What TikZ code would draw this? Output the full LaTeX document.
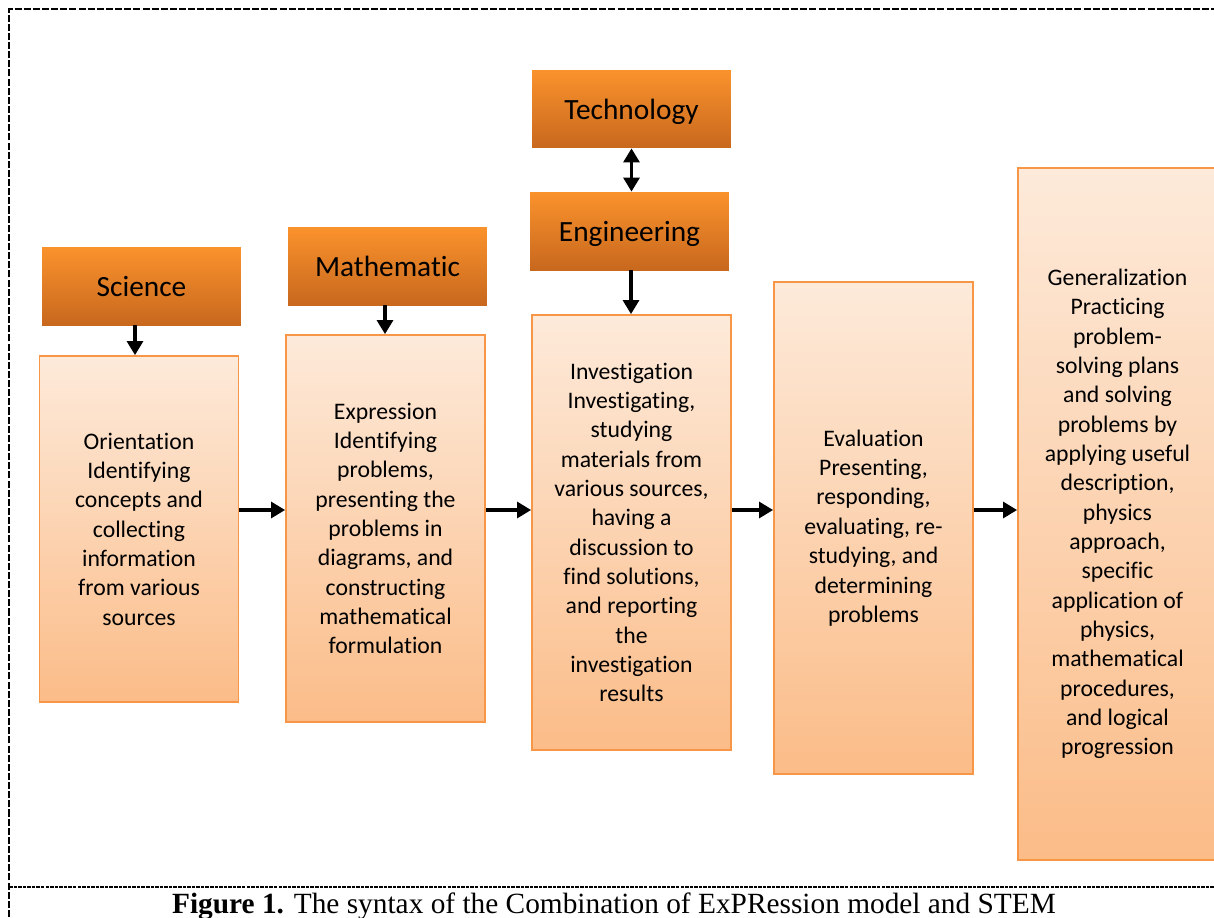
\documentclass[tikz,border=0pt]{standalone}
\usepackage{fontspec}
\setmainfont{Carlito}[Ligatures=NoCommon]
\newfontfamily\capfont{Liberation Serif}
\usetikzlibrary{arrows.meta}
\definecolor{hdrtop}{RGB}{250,146,44}
\definecolor{hdrbot}{RGB}{200,104,30}
\definecolor{boxtop}{RGB}{253,234,218}
\definecolor{boxbot}{RGB}{251,188,136}
\definecolor{boxline}{RGB}{247,150,70}

\begin{document}
\begin{tikzpicture}[x=0.02cm,y=-0.02cm]
                \useasboundingbox (0,0) rectangle (1214,917);
                \draw[line width=1.1pt, dash pattern=on 4pt off 1.2pt] (9,917) -- (9,9) -- (1214,9);
                \draw[line width=0.6pt, dash pattern=on 2pt off 0.6pt] (9,887) -- (1214,887);
                \coordinate (row) at (0,510);

                \begin{scope}[every node/.style = {rectangle, top color=hdrtop, bottom color=hdrbot,
                                minimum width=3.98cm, minimum height=1.56cm, text depth=0pt,
                                font=\fontsize{16.7}{20}\selectfont}]
                    \node (Sci)  at (141.5,286)  {Science};
                    \node (Math) at (387.5,266)  {Mathematic};
                    \node (Tech) at (631.5,109)  {Technology};
                    \node (Eng)  at (629.5,231)  {Engineering};
                \end{scope}

                \begin{scope}[every node/.style = {rectangle, draw=boxline, line width=1pt,
                                top color=boxtop, bottom color=boxbot, align=center,
                                minimum width=3.98cm, font=\fontsize{13.5}{16.7}\selectfont}]
                    \node[minimum height=6.92cm] (Ori) at (139,529)
                        {Orientation\\Identifying\\concepts and\\collecting\\information\\from various\\sources};
                    \node[minimum height=7.74cm] (Exp) at (385.5,528.5)
                        {Expression\\Identifying\\problems,\\presenting the\\problems in\\diagrams, and\\constructing\\mathematical\\formulation};
                    \node[minimum height=8.70cm] (Inv) at (631.5,532.5)
                        {Investigation\\Investigating,\\studying\\materials from\\various sources,\\having a\\discussion to\\find solutions,\\and reporting\\the\\investigation\\results};
                    \node[minimum height=9.84cm] (Eva) at (873.5,528)
                        {Evaluation\\Presenting,\\responding,\\evaluating, re-\\studying, and\\determining\\problems};
                    \node[minimum height=13.84cm] (Gen) at (1117.5,514)
                        {Generalization\\Practicing\\problem-\\solving plans\\and solving\\problems by\\applying useful\\description,\\physics\\approach,\\specific\\application of\\physics,\\mathematical\\procedures,\\and logical\\progression};
                \end{scope}

                \begin{scope}[>={Triangle[length=8pt,width=9pt]},
                                every edge/.style={draw=black,line width=2.2pt}]
                     \path [->] ([xshift=-0.13cm]Sci.south) edge ([xshift=-0.13cm]Sci.south |- Ori.north);
                     \path [->] ([xshift=-0.05cm]Math.south) edge ([xshift=-0.05cm]Math.south |- Exp.north);
                     \path [<->] (Tech.south) edge (Tech.south |- Eng.north);
                     \path [->] ([xshift=0.03cm]Eng.south) edge ([xshift=0.03cm]Eng.south |- Inv.north);

                     \path [->] (Ori.east |- row) edge (Exp.west |- row);
                     \path [->] (Exp.east |- row) edge (Inv.west |- row);
                     \path [->] (Inv.east |- row) edge (Eva.west |- row);
                     \path [->] (Eva.east |- row) edge (Gen.west |- row);
                \end{scope}

                \node[font=\capfont\fontsize{16.7}{19}\selectfont] (cap) at (614,906)
                    {\textbf{Figure 1.} The syntax of the Combination of ExPRession model and STEM};
\end{tikzpicture}
\end{document}
